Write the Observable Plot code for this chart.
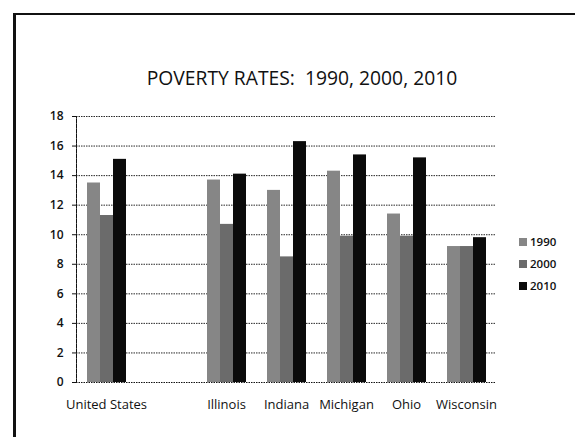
<!DOCTYPE html>
<html><head><meta charset="utf-8">
<script src="https://cdn.jsdelivr.net/npm/d3@7"></script>
<script src="https://cdn.jsdelivr.net/npm/@observablehq/plot@0.6"></script>
<style>
body{margin:0;background:#fff;font-family:"Open Sans",sans-serif;color:#111;}
#wrap{position:relative;width:575px;height:437px;overflow:hidden;background:#fff;}
#frame{position:absolute;left:13px;top:13px;width:620px;height:460px;border-top:2px solid #111;border-left:3px solid #111;}
#title{position:absolute;left:0;width:604px;top:64px;text-align:center;font-size:19.3px;}
#chart{position:absolute;left:0;top:100px;}
#legend{position:absolute;left:519px;top:231px;font-size:11.5px;font-weight:600;line-height:22px;}
#legend span.sw{display:inline-block;width:8px;height:8px;margin-right:3px;}
</style></head>
<body>
<div id="wrap">
  <div id="frame"></div>
  <div id="title">POVERTY RATES:&nbsp; 1990, 2000, 2010</div>
  <div id="chart"></div>
  <div id="legend"></div>
</div>
<script>
const categories = ["United States", " ", "Illinois", "Indiana", "Michigan", "Ohio", "Wisconsin"];
const years = ["1990", "2000", "2010"];
const rates1990 = [13.5, null, 13.7, 13.0, 14.3, 11.4, 9.2];
const rates2000 = [11.3, null, 10.7, 8.5, 9.9, 9.9, 9.2];
const rates2010 = [15.1, null, 14.1, 16.3, 15.4, 15.2, 9.8];
const yTicks = [0, 2, 4, 6, 8, 10, 12, 14, 16, 18];
const colors = ["#868686", "#6b6b6b", "#0b0b0b"];

const series = [rates1990, rates2000, rates2010];
const data = [];
categories.forEach((c, i) => {
  years.forEach((y, j) => data.push({category: c, year: y, value: series[j][i]}));
});

const chart = Plot.plot({
  width: 575,
  height: 318,
  marginLeft: 76,
  marginRight: 79,
  marginTop: 16,
  marginBottom: 36,
  style: {fontFamily: "Open Sans, sans-serif", fontSize: "12px", color: "#111", background: "transparent"},
  fx: {domain: categories, padding: 0, label: null},
  x: {domain: years, paddingInner: 0, paddingOuter: 0.75, axis: null},
  y: {domain: [0, 18], label: null},
  color: {domain: years, range: colors},
  marks: [
    Plot.gridY(yTicks.slice(1), {stroke: "#111", strokeOpacity: 0.9, strokeDasharray: "1.5,1"}),
    Plot.barY(data, {fx: "category", x: "year", y: "value", fill: "year"}),
    Plot.ruleY([0], {stroke: "#111", strokeDasharray: "1.5,1"}),
    Plot.frame({anchor: "left", facetAnchor: "left", stroke: "#111", strokeDasharray: "1.5,1"}),
    Plot.axisY(yTicks, {tickSize: 4, tickPadding: 9, fontWeight: 600, fontSize: 12, label: null}),
    Plot.axisFx({tickSize: 0, tickPadding: 17, fontSize: 13, label: null, anchor: "bottom"})
  ]
});
document.getElementById("chart").appendChild(chart);

const legend = document.getElementById("legend");
years.forEach((y, j) => {
  const row = document.createElement("div");
  const sw = document.createElement("span");
  sw.className = "sw";
  sw.style.background = colors[j];
  row.appendChild(sw);
  row.appendChild(document.createTextNode(y));
  legend.appendChild(row);
});
</script>
</body></html>
